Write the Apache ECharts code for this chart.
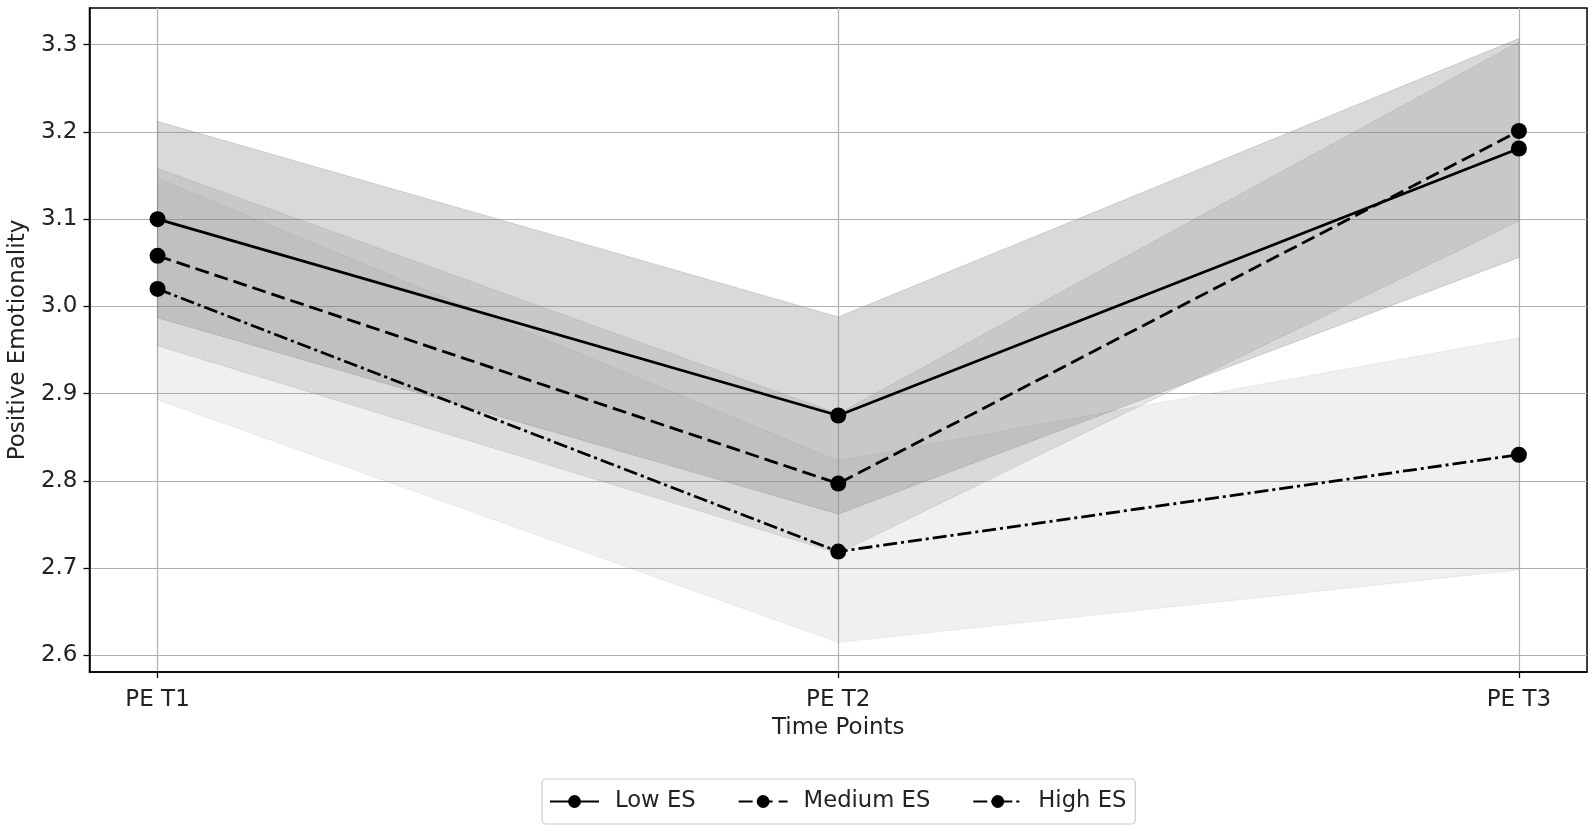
<!DOCTYPE html>
<html>
<head>
<meta charset="utf-8">
<script src="https://cdn.jsdelivr.net/npm/echarts@6/dist/echarts.min.js"></script>
<style>html,body{margin:0;padding:0;background:#fff}#c{width:1595px;height:831px}</style>
</head>
<body>
<div id="c"></div>
<script>
const timePoints = ['PE T1', 'PE T2', 'PE T3'];
const yTicks = [2.6, 2.7, 2.8, 2.9, 3.0, 3.1, 3.2, 3.3];
const groupNames = ['Low ES', 'Medium ES', 'High ES'];
const lowMean = [3.100, 2.875, 3.181];
const lowLower = [2.987, 2.762, 3.056];
const lowUpper = [3.212, 2.988, 3.307];
const medMean = [3.058, 2.797, 3.201];
const medLower = [2.955, 2.717, 3.098];
const medUpper = [3.158, 2.877, 3.303];
const highMean = [3.020, 2.719, 2.830];
const highLower = [2.893, 2.615, 2.698];
const highUpper = [3.147, 2.823, 2.964];

const FONT = 'DejaVu Sans';
const FS = 23;
const groups = [
  {name: groupNames[0], mean: lowMean, lo: lowLower, hi: lowUpper, alpha: 0.3, dash: 'solid'},
  {name: groupNames[1], mean: medMean, lo: medLower, hi: medUpper, alpha: 0.2, dash: [14, 6]},
  {name: groupNames[2], mean: highMean, lo: highLower, hi: highUpper, alpha: 0.12, dash: [14, 4, 3, 4]}
];

const series = [];
groups.forEach((g, gi) => {
  const col = 'rgba(128,128,128,' + g.alpha + ')';
  series.push({
    type: 'custom', name: 'band_' + gi, silent: true, z: 1,
    data: g.lo.map((v, i) => [i, v, g.hi[i]]),
    encode: {x: 0, y: [1, 2]},
    renderItem: (params, api) => {
      if (params.dataIndex !== 0) return null;
      const pts = [];
      for (let i = 0; i < g.hi.length; i++) pts.push(api.coord([i, g.hi[i]]));
      for (let i = g.lo.length - 1; i >= 0; i--) pts.push(api.coord([i, g.lo[i]]));
      return {type: 'polygon', shape: {points: pts}, style: {fill: col, stroke: col, lineWidth: 1}};
    },
    animation: false
  });
});
groups.forEach((g) => {
  series.push({
    type: 'line', name: g.name, data: g.mean.map((v, i) => [i, v]),
    symbol: 'circle', symbolSize: 16,
    itemStyle: {color: '#000'},
    lineStyle: {color: '#000', width: 2.8, type: g.dash},
    z: 5, animation: false
  });
});

const chart = echarts.init(document.getElementById('c'));
chart.setOption({
  animation: false,
  grid: {left: 89.5, right: 8, top: 8, bottom: 159, outerBoundsMode: 'none', containLabel: false,
         show: true, borderColor: '#000', borderWidth: 1.5, backgroundColor: 'transparent'},
  xAxis: {
    type: 'value', min: -0.1, max: 2.1,
    name: 'Time Points', nameLocation: 'middle', nameGap: 44,
    nameTextStyle: {fontFamily: FONT, fontSize: FS, color: '#222'},
    axisLine: {show: true, onZero: false, lineStyle: {color: '#000', width: 1.5}},
    axisTick: {show: true, length: 6, customValues: [0, 1, 2], lineStyle: {color: '#000', width: 1.3}},
    axisLabel: {customValues: [0, 1, 2], formatter: (v) => timePoints[Math.round(v)], fontFamily: FONT, fontSize: FS, color: '#222', margin: 17},
    splitLine: {show: true, customValues: [0, 1, 2], lineStyle: {color: '#b0b0b0', width: 1.2}}
  },
  yAxis: {
    type: 'value', min: 2.581, max: 3.342,
    name: 'Positive Emotionality', nameLocation: 'middle', nameGap: 59,
    nameTextStyle: {fontFamily: FONT, fontSize: FS, color: '#222'},
    axisLine: {show: true, onZero: false, lineStyle: {color: '#000', width: 1.5}},
    axisTick: {show: true, length: 6, customValues: yTicks, lineStyle: {color: '#000', width: 1.3}},
    axisLabel: {customValues: yTicks, formatter: (v) => v.toFixed(1), fontFamily: FONT, fontSize: FS, color: '#222', margin: 12},
    splitLine: {show: true, customValues: yTicks, lineStyle: {color: '#b0b0b0', width: 1.2}}
  },
  legend: {
    data: groupNames, bottom: 7, left: 542,
    itemWidth: 49, itemHeight: 16, itemGap: 42,
    padding: [11, 9, 11, 7],
    borderColor: '#cccccc', borderWidth: 1.2, borderRadius: 4,
    textStyle: {fontFamily: FONT, fontSize: 22.7, color: '#222', padding: [0, 0, 0, 11]}
  },
  series: series
});
</script>
</body>
</html>
